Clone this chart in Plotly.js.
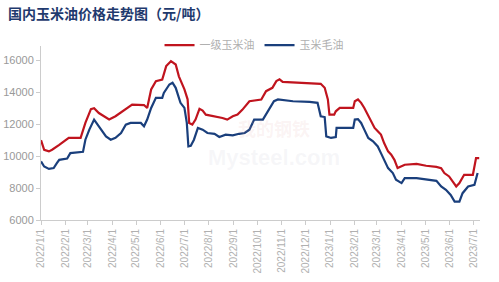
<!DOCTYPE html>
<html><head><meta charset="utf-8">
<script src="https://cdn.plot.ly/plotly-3.0.1.min.js"></script>
<style>html,body{margin:0;padding:0;background:#fff;}#c{width:499px;height:282px;}</style>
</head><body><div id="c"></div>
<script>
const redDates = ['2022-01-01','2022-01-05','2022-01-11','2022-01-15','2022-01-24','2022-02-05','2022-02-20','2022-02-26','2022-03-05','2022-03-09','2022-03-15','2022-03-28','2022-04-05','2022-04-22','2022-04-26','2022-05-11','2022-05-15','2022-05-20','2022-05-26','2022-06-03','2022-06-08','2022-06-14','2022-06-20','2022-06-24','2022-07-01','2022-07-05','2022-07-07','2022-07-11','2022-07-15','2022-07-20','2022-07-24','2022-07-28','2022-08-08','2022-08-18','2022-08-24','2022-08-31','2022-09-06','2022-09-12','2022-09-21','2022-10-06','2022-10-12','2022-10-20','2022-10-25','2022-10-29','2022-11-02','2022-11-29','2022-12-06','2022-12-20','2022-12-25','2022-12-29','2022-12-31','2023-01-06','2023-01-08','2023-01-13','2023-01-30','2023-02-01','2023-02-05','2023-02-09','2023-02-13','2023-02-18','2023-02-22','2023-02-26','2023-03-02','2023-03-06','2023-03-10','2023-03-15','2023-03-19','2023-03-23','2023-03-27','2023-04-01','2023-04-05','2023-04-20','2023-05-02','2023-05-15','2023-05-21','2023-05-25','2023-05-31','2023-06-09','2023-06-13','2023-06-19','2023-06-30','2023-07-04','2023-07-08'];
const redValues = [11000,10400,10300,10400,10700,11150,11150,12080,12950,13000,12700,12300,12500,13130,13230,13200,13020,14180,14700,14800,15640,15950,15740,15000,14180,13560,12080,11980,12290,12960,12850,12600,12500,12390,12290,12500,12600,12900,13440,13550,14070,14280,14700,14810,14650,14600,14550,14530,14280,13550,12600,12600,12810,13020,13020,13440,13550,13340,13020,12500,12080,11770,11560,11350,10820,10300,10090,9770,9250,9350,9460,9510,9400,9330,9250,8940,8730,8100,8310,8830,8830,9880,9880];

const blueDates = ['2022-01-01','2022-01-05','2022-01-11','2022-01-17','2022-01-21','2022-01-24','2022-02-03','2022-02-07','2022-02-23','2022-02-26','2022-03-03','2022-03-09','2022-03-15','2022-03-24','2022-03-30','2022-04-05','2022-04-12','2022-04-18','2022-04-24','2022-05-07','2022-05-11','2022-05-15','2022-05-20','2022-05-26','2022-06-03','2022-06-05','2022-06-12','2022-06-16','2022-06-20','2022-06-26','2022-07-01','2022-07-04','2022-07-06','2022-07-09','2022-07-13','2022-07-18','2022-07-24','2022-07-30','2022-08-08','2022-08-14','2022-08-22','2022-08-31','2022-09-08','2022-09-15','2022-09-21','2022-09-27','2022-10-08','2022-10-12','2022-10-22','2022-10-27','2022-11-15','2022-12-06','2022-12-16','2022-12-20','2022-12-25','2022-12-27','2023-01-02','2023-01-08','2023-01-09','2023-01-30','2023-02-01','2023-02-05','2023-02-09','2023-02-13','2023-02-18','2023-02-24','2023-03-02','2023-03-06','2023-03-10','2023-03-15','2023-03-21','2023-03-25','2023-04-01','2023-04-05','2023-04-20','2023-05-02','2023-05-15','2023-05-21','2023-05-27','2023-06-02','2023-06-07','2023-06-13','2023-06-17','2023-06-24','2023-07-02','2023-07-06'];
const blueValues = [9670,9350,9200,9250,9560,9770,9850,10190,10270,11030,11660,12290,11870,11240,11030,11150,11450,11975,12080,12080,11870,12290,13020,13650,13650,13960,14490,14600,14280,13340,13020,12080,10610,10650,11030,11770,11660,11450,11400,11200,11350,11300,11400,11450,11660,12290,12290,12600,13440,13550,13440,13400,13340,12500,12450,11240,11140,11200,11770,11770,12290,12320,12080,11660,11140,10930,10610,10190,9770,9250,8940,8520,8310,8620,8620,8520,8450,8100,7890,7570,7150,7150,7680,8100,8200,8940];

const seriesNames = ['一级玉米油','玉米毛油'];
const yTicks = [6000,8000,10000,12000,14000,16000];
const titleText = '国内玉米油价格走势图（元/吨）';

const traces = [
  {x: redDates, y: redValues, name: seriesNames[0], type: 'scatter', mode: 'lines',
   line: {color: '#C0141E', width: 2.2}},
  {x: blueDates, y: blueValues, name: seriesNames[1], type: 'scatter', mode: 'lines',
   line: {color: '#1A3F7C', width: 2.2}}
];

const layout = {
  width: 499, height: 282,
  margin: {l: 41, r: 19, t: 46, b: 62},
  paper_bgcolor: '#fff', plot_bgcolor: '#fff',
  font: {family: '"Noto Sans CJK SC", "Noto Sans", sans-serif', color: '#999'},
  title: {text: '<b>' + titleText + '</b>', x: 0.016, xanchor: 'left', y: 0.95, yanchor: 'middle',
          font: {size: 14, color: '#1F3A6E', family: '"Noto Sans CJK SC", sans-serif'}},
  showlegend: true,
  legend: {orientation: 'h', x: 0.27, xanchor: 'left', y: 1.005, yanchor: 'middle',
           font: {size: 11, color: '#b0b0b0'}, itemwidth: 30, bgcolor: 'rgba(0,0,0,0)', tracegroupgap: 0},
  xaxis: {type: 'date', range: ['2022-01-01', '2023-07-09'],
          tickmode: 'linear', tick0: '2022-01-01', dtick: 'M1', tickformat: '%Y/%-m/%-d',
          tickangle: -90, tickfont: {size: 10, color: '#b0b0b0', family: 'Liberation Sans, sans-serif'},
          showgrid: false, zeroline: false, showline: true, linecolor: '#ccc', linewidth: 1,
          ticks: 'outside', ticklen: 4, tickcolor: '#ccc'},
  yaxis: {range: [6000, 16900], tickvals: yTicks, tickformat: 'd',
          tickfont: {size: 11, color: '#999', family: 'Liberation Sans, sans-serif'},
          showgrid: false, zeroline: false, showline: true, linecolor: '#ccc', linewidth: 1,
          ticks: 'outside', ticklen: 4, tickcolor: '#ccc'},
  annotations: [
    {xref: 'paper', yref: 'paper', x: 0.53, y: 0.36, text: '<b>Mysteel.com</b>', showarrow: false,
     font: {size: 22, color: 'rgba(200,200,215,0.16)', family: 'Liberation Sans, sans-serif'}},
    {xref: 'paper', yref: 'paper', x: 0.53, y: 0.53, text: '<b>我的钢铁</b>', showarrow: false,
     font: {size: 18, color: 'rgba(230,170,170,0.14)', family: '"Noto Sans CJK SC", sans-serif'}}
  ]
};

Plotly.newPlot('c', traces, layout, {displayModeBar: false, staticPlot: true});
</script></body></html>
